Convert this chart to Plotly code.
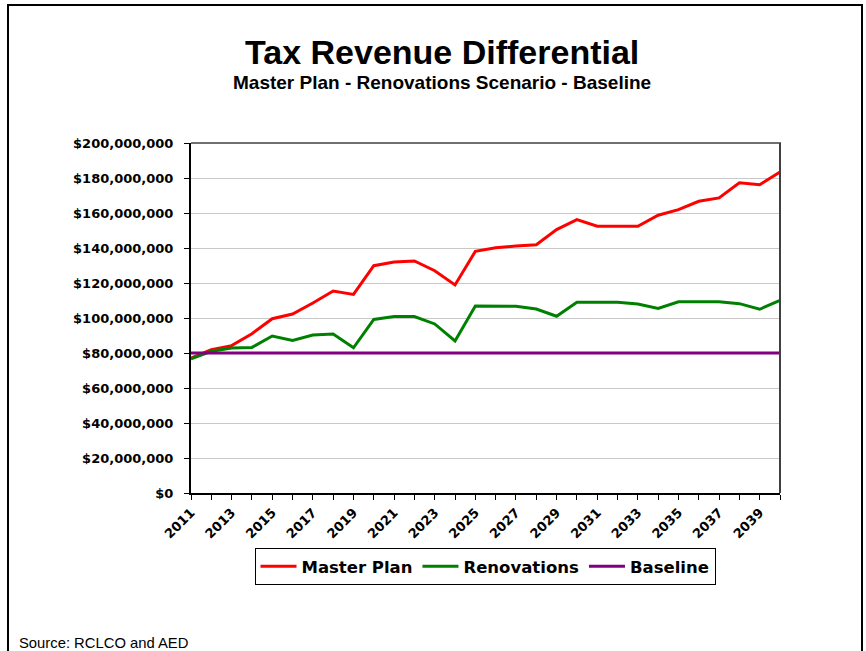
import plotly.graph_objects as go

years = list(range(2011, 2041))
master_plan = [77.1, 81.9, 84.2, 91.0, 99.6, 102.3, 108.6, 115.4, 113.5, 129.9,
               132.0, 132.6, 127.0, 118.9, 138.1, 140.2, 141.1, 141.9, 150.5, 156.2,
               152.4, 152.4, 152.4, 158.7, 161.9, 166.7, 168.6, 177.3, 176.2, 183.4]
renovations = [76.6, 81.0, 82.9, 83.2, 89.7, 87.2, 90.3, 90.9, 83.0, 99.2,
               100.8, 100.8, 96.6, 86.9, 106.9, 106.7, 106.7, 105.1, 101.0, 109.0,
               109.0, 109.0, 108.0, 105.5, 109.3, 109.3, 109.3, 108.2, 105.0, 110.1]
baseline = [80.0] * 30
master_plan = [v * 1e6 for v in master_plan]
renovations = [v * 1e6 for v in renovations]
baseline = [v * 1e6 for v in baseline]

y_ticks = [0, 20e6, 40e6, 60e6, 80e6, 100e6, 120e6, 140e6, 160e6, 180e6, 200e6]
y_labels = ["$0", "$20,000,000", "$40,000,000", "$60,000,000", "$80,000,000",
            "$100,000,000", "$120,000,000", "$140,000,000", "$160,000,000",
            "$180,000,000", "$200,000,000"]
x_ticks = years[::2]
x_labels = [str(y) for y in x_ticks]

W, H = 866, 651
def px(x):
    return x / W
def py(y):
    return 1 - y / H

fig = go.Figure()
fig.add_trace(go.Scatter(x=years, y=master_plan, mode="lines", name="Master Plan",
                         line=dict(color="#FF0000", width=3)))
fig.add_trace(go.Scatter(x=years, y=renovations, mode="lines", name="Renovations",
                         line=dict(color="#008000", width=3)))
fig.add_trace(go.Scatter(x=years, y=baseline, mode="lines", name="Baseline",
                         line=dict(color="#800080", width=3)))

tickfont = dict(family="DejaVu Sans", size=13, color="black", weight="bold")

fig.update_layout(
    template="none",
    width=W, height=H,
    margin=dict(l=0, r=0, t=0, b=0, autoexpand=False),
    paper_bgcolor="white", plot_bgcolor="white",
    showlegend=True,
    legend=dict(orientation="h", x=px(485), xanchor="center", y=py(548), yanchor="top",
                bordercolor="black", borderwidth=1, bgcolor="white",
                font=dict(family="DejaVu Sans", size=16.5, color="black", weight="bold"),
                itemwidth=36, tracegroupgap=0),
    xaxis=dict(domain=[px(191), px(780)], range=[2011, 2040], automargin=False,
               tickvals=x_ticks, ticktext=x_labels, tickangle=-45,
               ticks="outside", ticklen=5, tickcolor="black", tickwidth=1,
               minor=dict(dtick=1, tick0=2011, ticks="outside", ticklen=5, tickcolor="black",
                          showgrid=False),
               showline=True, linecolor="black", linewidth=2, showgrid=False,
               tickfont=tickfont, zeroline=False, fixedrange=True),
    yaxis=dict(domain=[py(493), py(143)], range=[0, 200e6], automargin=False,
               tickvals=y_ticks, ticktext=y_labels,
               ticks="outside", ticklen=5, tickcolor="black", tickwidth=1,
               showline=True, linecolor="black", linewidth=2,
               showgrid=True, gridcolor="#C8C8C8", gridwidth=1,
               tickfont=tickfont, zeroline=False, ticklabelstandoff=8),
    shapes=[
        dict(type="line", xref="paper", yref="paper", x0=px(191), x1=px(781),
             y0=py(143), y1=py(143), line=dict(color="#707070", width=2), layer="above"),
        dict(type="line", xref="paper", yref="paper", x0=px(780), x1=px(780),
             y0=py(143), y1=py(493), line=dict(color="#404040", width=2), layer="above"),
        dict(type="path", xref="paper", yref="paper",
             path=f"M {px(8)} {py(700)} L {px(8)} {py(5)} L {px(862)} {py(5)} L {px(862)} {py(700)}",
             line=dict(color="black", width=2)),
    ],
    annotations=[
        dict(text="<b>Tax Revenue Differential</b>", x=px(442), y=py(52), xref="paper", yref="paper",
             showarrow=False, xanchor="center", yanchor="middle",
             font=dict(family="Liberation Sans", size=34, color="black")),
        dict(text="<b>Master Plan - Renovations Scenario - Baseline</b>", x=px(442), y=py(83),
             xref="paper", yref="paper", showarrow=False, xanchor="center", yanchor="middle",
             font=dict(family="Liberation Sans", size=19, color="black")),
        dict(text="Source: RCLCO and AED", x=px(17), y=py(643), xref="paper", yref="paper",
             showarrow=False, xanchor="left", yanchor="middle",
             font=dict(family="Liberation Sans", size=14.8, color="black")),
    ],
)

fig.write_html("out.html")
